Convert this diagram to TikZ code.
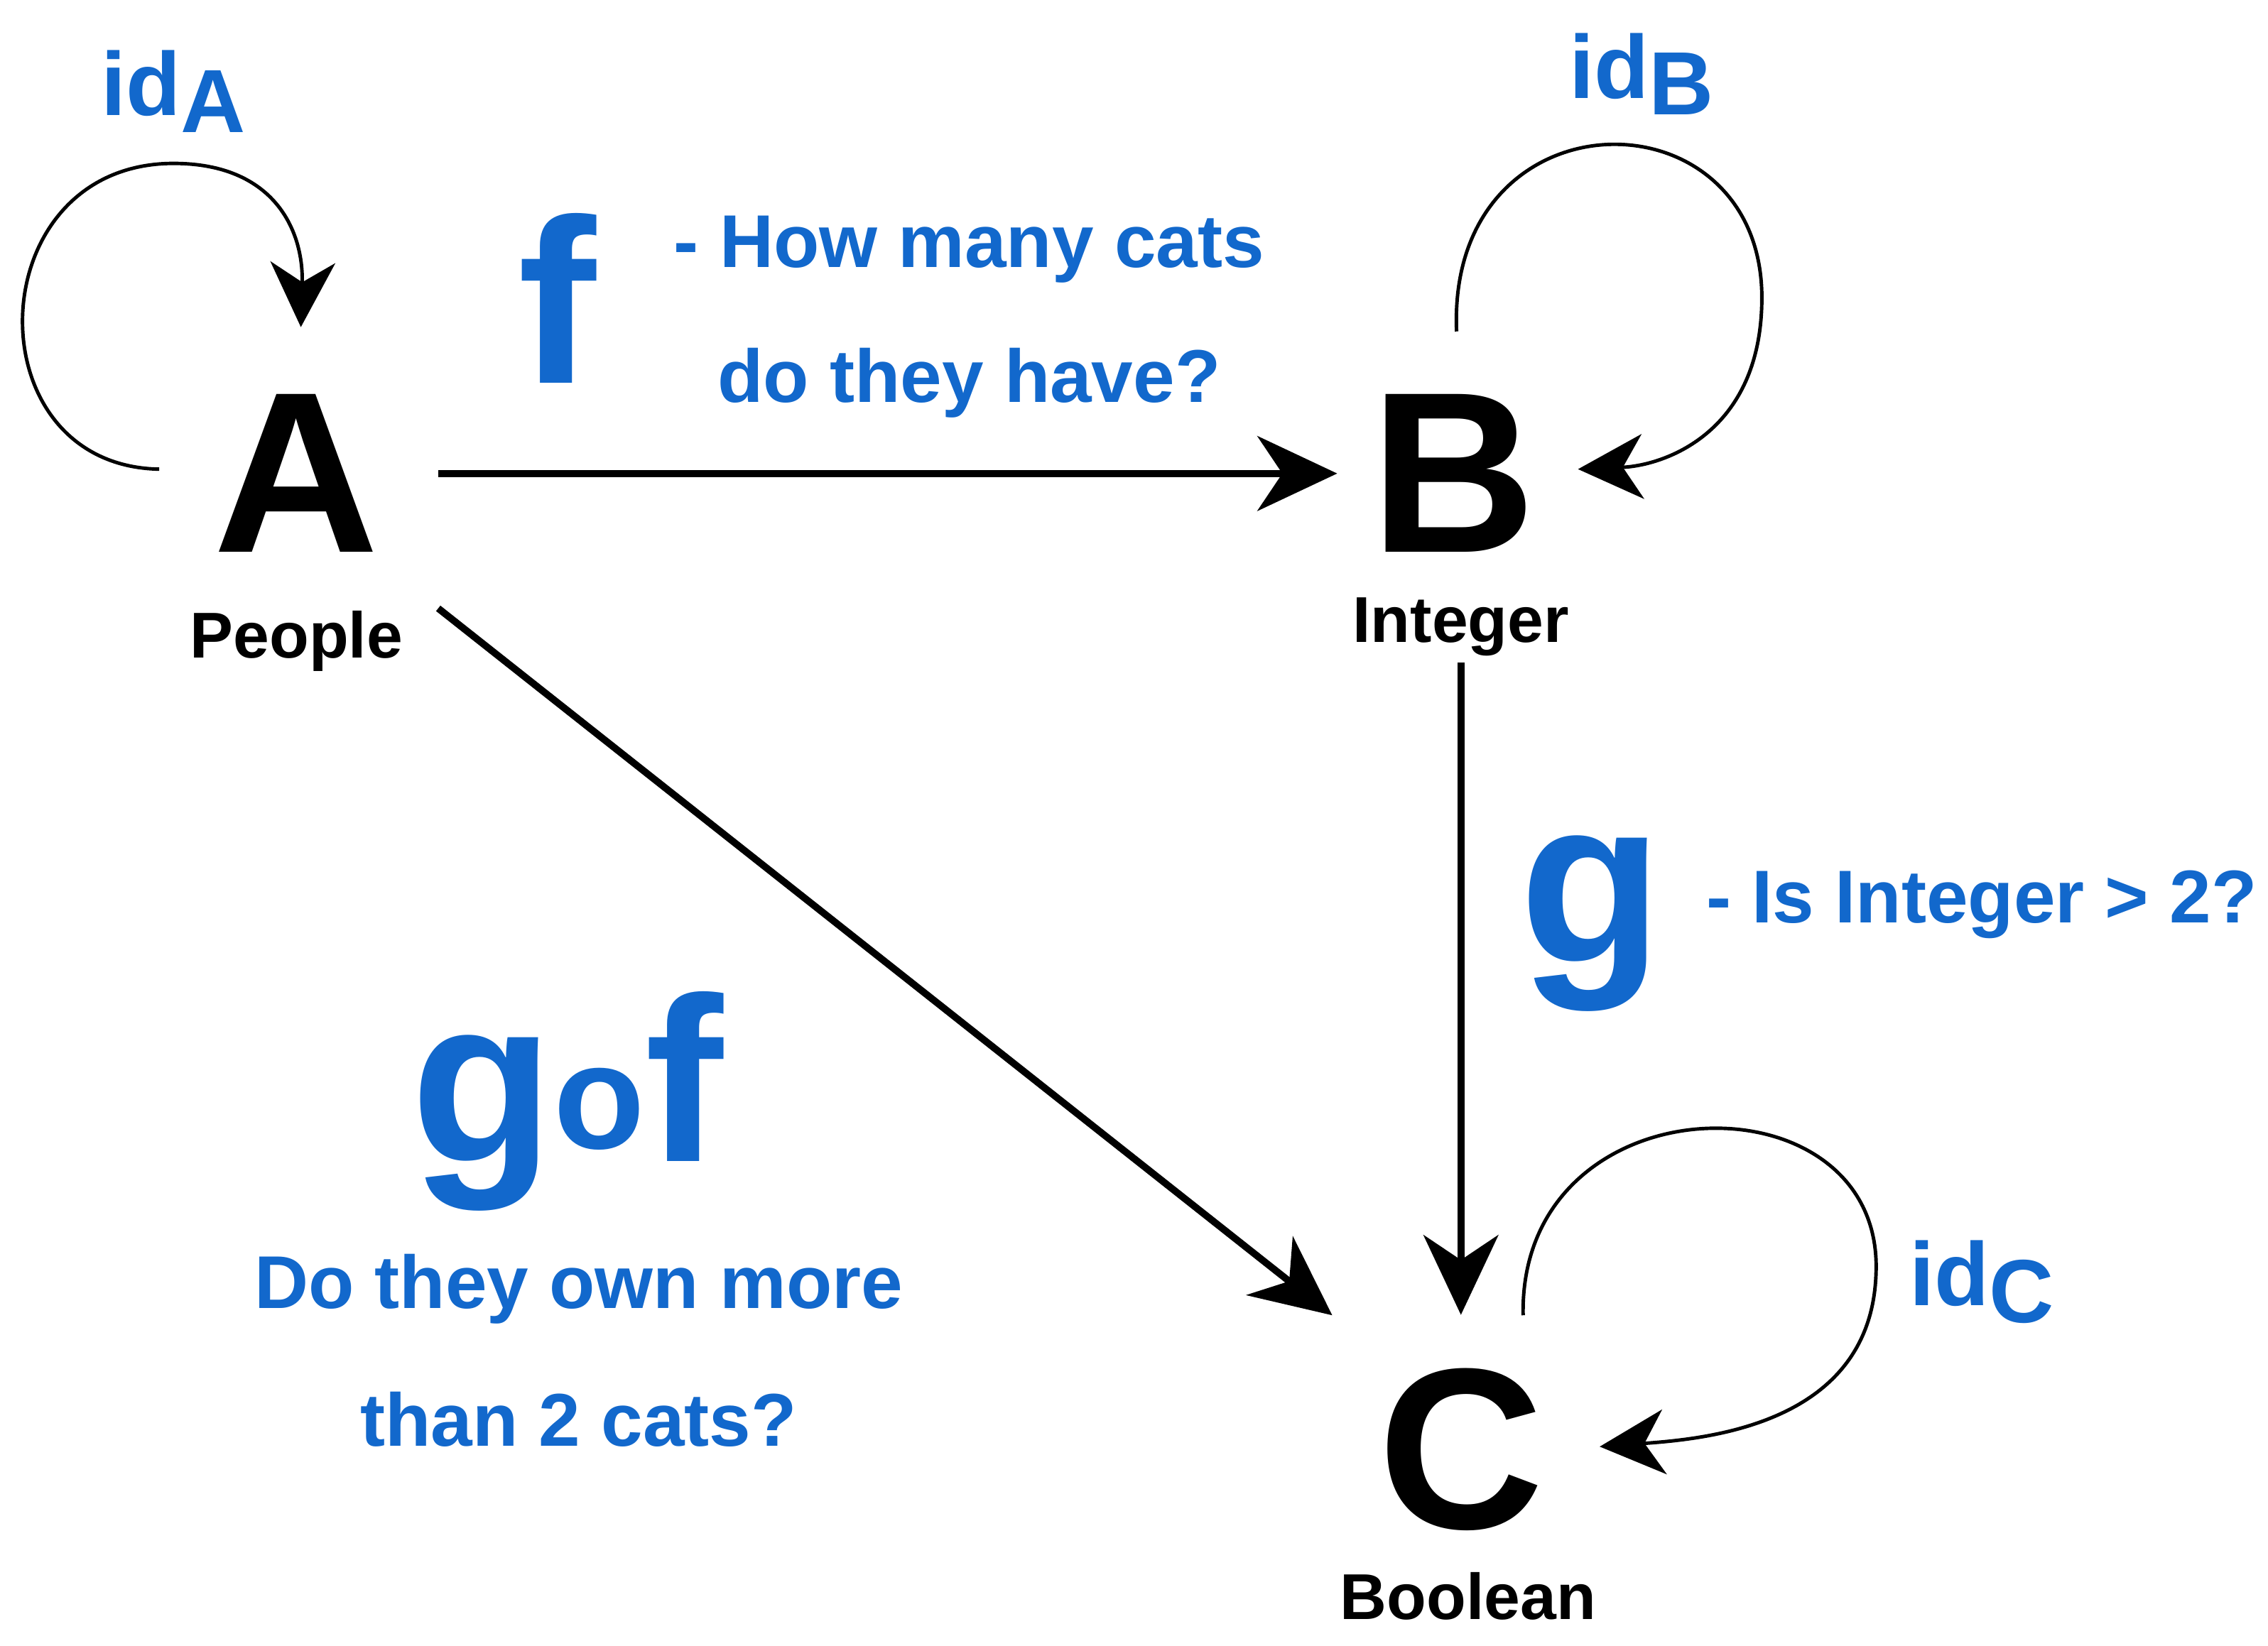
\documentclass[tikz,border=0pt]{standalone}
\usepackage{fontspec}
\setmainfont{Liberation Sans}
\usetikzlibrary{arrows.meta,calc}
\definecolor{catblue}{RGB}{18,104,204}
\tikzset{
  obj/.style={font=\fontsize{46}{50}\selectfont\bfseries, inner sep=0pt, anchor=base},
  sub/.style={font=\fontsize{13}{15}\selectfont\bfseries, inner sep=0pt, anchor=base},
  big/.style={font=\fontsize{47}{50}\selectfont\bfseries, text=catblue, inner sep=0pt, anchor=base},
  note/.style={font=\fontsize{15}{18}\selectfont\bfseries, text=catblue, inner sep=0pt, anchor=base},
  ident/.style={font=\fontsize{18}{20}\selectfont\bfseries, text=catblue, inner sep=0pt, anchor=base},
  arr/.style={line width=1.4pt, -{Stealth[length=16pt,width=15pt,inset=5pt]}},
  loop/.style={line width=0.7pt, -{Stealth[length=13pt,width=13pt,inset=4pt]}}
}
\begin{document}
\begin{tikzpicture}[x=0.0102cm,y=-0.0102cm]
    \useasboundingbox (0,0) rectangle (1568,1138);

    % objects
    \node[obj] (A) at (205,382) {A};
    \node[obj] (B) at (1005,382) {B};
    \node[obj] (C) at (1010,1057) {C};
    \node[sub] (Al) at (205,455) {People};
    \node[sub] (Bl) at (1010,444) {Integer};
    \node[sub] (Cl) at (1015,1120) {Boolean};

    % morphisms
    \draw[arr, shorten <=0.41cm, shorten >=0.23cm] (A.east) -- (B.west);
    \draw[arr] ($(A.south east)+(40,38)$) -- ($(C.north west)+(-31,-36)$);
    \draw[arr, shorten <=0.04cm, shorten >=0.37cm] (Bl.south) -- (Bl.south |- C.north);

    % identities
    \draw[loop] ($(A.west)+(-37,-3)$) .. controls (-20,322) and (-15,113) .. (120,113)
        .. controls (190,113) and (210,160) .. ($(A.north)+(3,-46)$);
    \draw[loop] ($(B.north)+(2,-43)$) .. controls (1000,60) and (1222,60) .. (1218,210)
        .. controls (1216,300) and (1150,322) .. ($(B.east)+(28,-3)$);
    \draw[loop] ($(C.north)+(43,-36)$) .. controls (1050,745) and (1302,740) .. (1297,880)
        .. controls (1294,985) and (1180,995) .. ($(C.east)+(38,-2)$);

    % labels
    \node[ident] (idA) at (120,80) {id\raisebox{-0.35ex}{A}};
    \node[ident] (idB) at (1135,68) {id\raisebox{-0.35ex}{B}};
    \node[ident] (idC) at (1370,903) {id\raisebox{-0.35ex}{C}};

    \node[big] (f) at (385,265) {f};
    \node[note] (f1) at (670,185) {- How many cats};
    \node[note] (f2) at (670,278) {do they have?};

    \node[big] (g) at (1100,665) {g};
    \node[note] (g1) at (1370,638) {- Is Integer > 2?};

    \node[big] (gf) at (392,803) {g\raisebox{0.1ex}{\fontsize{30}{30}\selectfont o}f};
    \node[note] (gf1) at (400,905) {Do they own more};
    \node[note] (gf2) at (400,1000) {than 2 cats?};
\end{tikzpicture}
\end{document}
